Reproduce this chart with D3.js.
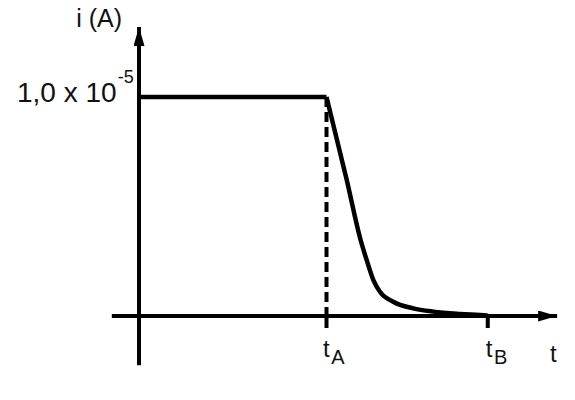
<!DOCTYPE html>
<html>
<head>
<meta charset="utf-8">
<script src="https://cdn.jsdelivr.net/npm/d3@7"></script>
<style>
  body { margin: 0; background: #fff; }
  text { font-family: "Liberation Sans", Arial, sans-serif; fill: #111; }
</style>
</head>
<body>
<svg width="575" height="400"></svg>
<script>
// current i in units of 1e-5 A, time in arbitrary units (tA = 100)
const tA = 100;
const tB = 186;
const iLevel = 1.0;
const plateauT = [0, 100];
const decayT = [100, 110.8, 118.2, 121.4, 125.0, 128.5, 135.6, 146.3, 157.0, 171.2, 185.4, 186];
const decayI = [1.0, 0.621, 0.347, 0.256, 0.164, 0.111, 0.065, 0.035, 0.020, 0.009, 0.002, 0];
const xAxisExtent = [-14.5, 223];
const yAxisExtent = [-0.225, 1.32];
const yLabel = 'i (A)';
const levelLabel = '1,0 x 10';
const levelExp = '-5';

const svg = d3.select('svg');

const x = d3.scaleLinear().domain([0, tA]).range([139, 326.5]);
const y = d3.scaleLinear().domain([0, iLevel]).range([316, 97]);

// arrow heads
const defs = svg.append('defs');
defs.append('marker')
  .attr('id', 'arrow')
  .attr('viewBox', '0 0 19 11')
  .attr('refX', 19)
  .attr('refY', 5.5)
  .attr('markerWidth', 19)
  .attr('markerHeight', 11)
  .attr('markerUnits', 'userSpaceOnUse')
  .attr('orient', 'auto')
  .append('path')
  .attr('d', 'M0,0 L19,5.5 L0,11 Z')
  .attr('fill', '#000');

// axes
svg.append('line')
  .attr('x1', x(xAxisExtent[0])).attr('x2', x(xAxisExtent[1]))
  .attr('y1', y(0)).attr('y2', y(0))
  .attr('stroke', '#000').attr('stroke-width', 4)
  .attr('marker-end', 'url(#arrow)');

svg.append('line')
  .attr('x1', x(0)).attr('x2', x(0))
  .attr('y1', y(yAxisExtent[0])).attr('y2', y(yAxisExtent[1]))
  .attr('stroke', '#000').attr('stroke-width', 4)
  .attr('marker-end', 'url(#arrow)');

// ticks at tA and tB
svg.selectAll('.tick')
  .data([tA, tB])
  .enter()
  .append('line')
  .attr('x1', d => x(d)).attr('x2', d => x(d))
  .attr('y1', y(0)).attr('y2', y(0) + 12)
  .attr('stroke', '#000').attr('stroke-width', 4);

// dashed drop line at tA
svg.append('line')
  .attr('x1', x(tA)).attr('x2', x(tA))
  .attr('y1', y(iLevel)).attr('y2', y(0))
  .attr('stroke', '#000').attr('stroke-width', 4)
  .attr('stroke-dasharray', '10,5');

// the current curve: flat plateau, then the decay
const line = d3.line()
  .x(d => x(d[0]))
  .y(d => y(d[1]));

svg.append('path')
  .datum(plateauT.map(t => [t, iLevel]))
  .attr('d', line)
  .attr('fill', 'none')
  .attr('stroke', '#000')
  .attr('stroke-width', 4.5);

svg.append('path')
  .datum(decayT.map((t, k) => [t, decayI[k]]))
  .attr('d', line.curve(d3.curveMonotoneX))
  .attr('fill', 'none')
  .attr('stroke', '#000')
  .attr('stroke-width', 4.5)
  .attr('stroke-linejoin', 'round');

// labels
svg.append('text')
  .attr('x', 122).attr('y', 27)
  .attr('text-anchor', 'end')
  .attr('font-size', 25)
  .text(yLabel);

const lvl = svg.append('text')
  .attr('x', 17).attr('y', y(iLevel) + 5)
  .attr('font-size', 28);
lvl.append('tspan').text(levelLabel);
lvl.append('tspan').attr('font-size', 18).attr('dy', -19).attr('dx', 1).text(levelExp);

function subLabel(t, sub, dx) {
  const g = svg.append('text')
    .attr('x', x(t) + dx).attr('y', 357)
    .attr('font-size', 24);
  g.append('tspan').text('t');
  g.append('tspan').attr('font-size', 20).attr('dy', 7).attr('dx', 1.5).text(sub);
}
subLabel(tA, 'A', -3.5);
subLabel(tB, 'B', -2);

svg.append('text')
  .attr('x', 550).attr('y', 362)
  .attr('font-size', 24)
  .text('t');
</script>
</body>
</html>
